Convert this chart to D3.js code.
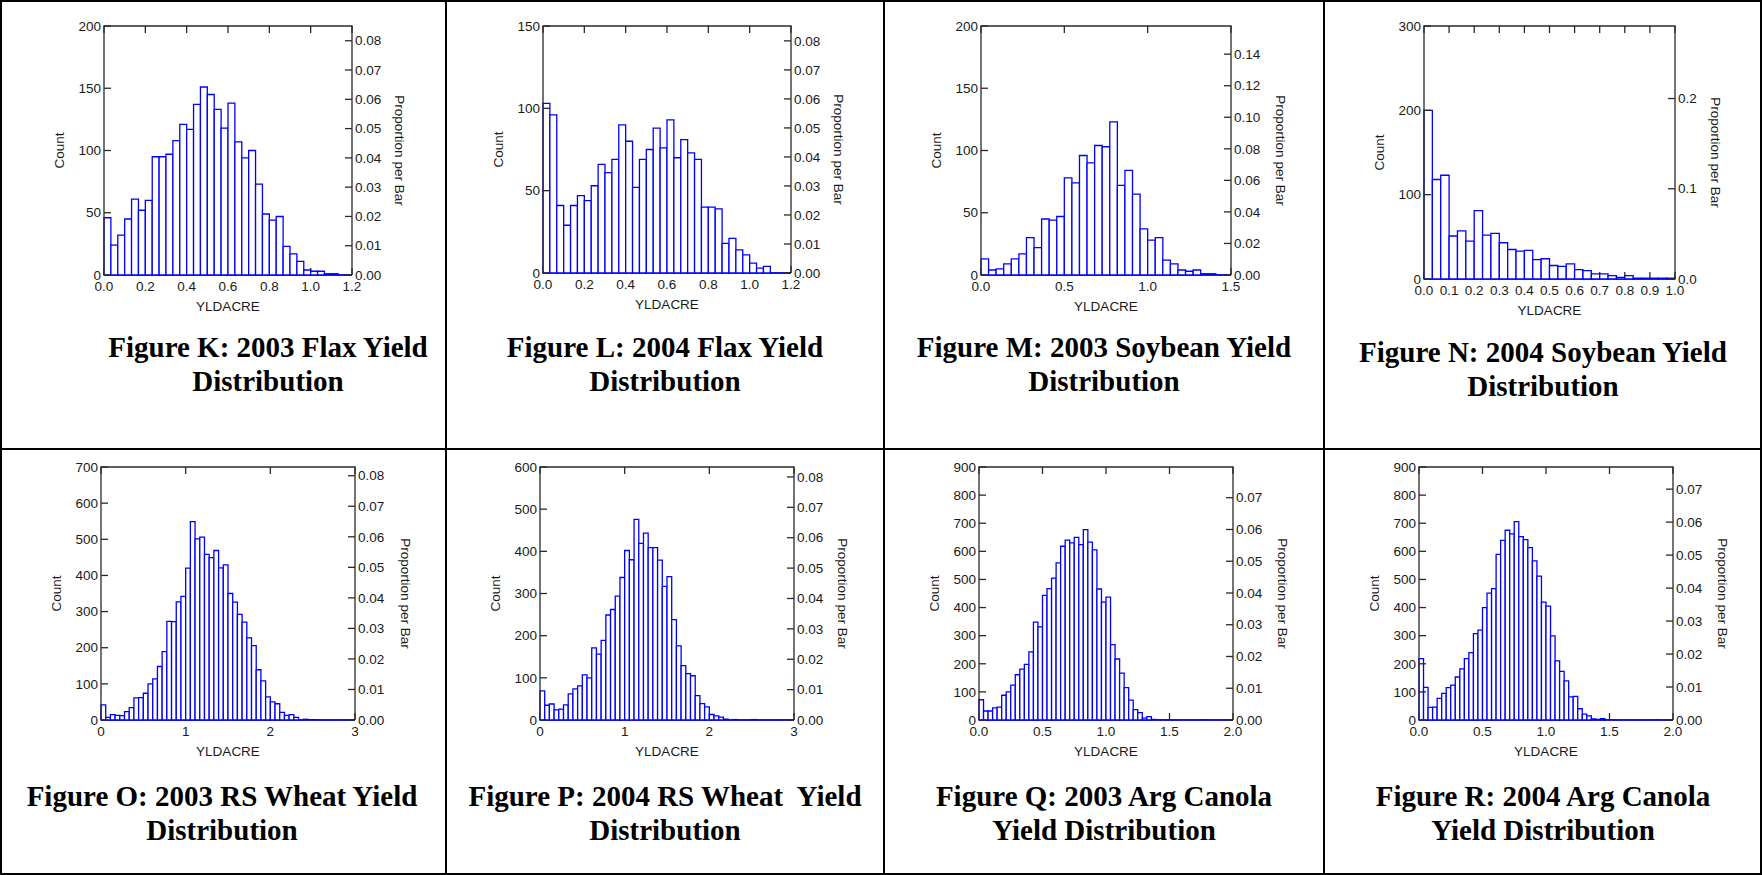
<!DOCTYPE html>
<meta charset="utf-8">
<head>
    <script src="https://d3js.org/d3.v7.min.js"></script>
    <style>
    body { margin: 0; background: #fff; }
    .tick-label { font: 13.5px "Liberation Sans", Arial, sans-serif; fill: #1a1a1a; }
    .axis-title { font: 13.5px "Liberation Sans", Arial, sans-serif; fill: #1a1a1a; }
    .fig-title { font: bold 29px "Liberation Serif", "Times New Roman", serif; fill: #000; white-space: pre; }
    .bar { stroke: #0000ff; stroke-width: 1.3; fill: #fff; }
    .frame { stroke: #2a2a2a; stroke-width: 1.3; }
    </style>
</head>
<body>
    <script>
    // panel ids, in reading order
    var panelIds = ["K", "L", "M", "N", "O", "P", "Q", "R"];

    // figure captions (two lines each)
    var titleLines = [
        ["Figure K: 2003 Flax Yield", "Distribution"],
        ["Figure L: 2004 Flax Yield", "Distribution"],
        ["Figure M: 2003 Soybean Yield", "Distribution"],
        ["Figure N: 2004 Soybean Yield", "Distribution"],
        ["Figure O: 2003 RS Wheat Yield", "Distribution"],
        ["Figure P: 2004 RS Wheat  Yield", "Distribution"],
        ["Figure Q: 2003 Arg Canola", "Yield Distribution"],
        ["Figure R: 2004 Arg Canola", "Yield Distribution"]
    ];

    // histogram counts per bin (bins span the whole x domain)
    var countsK = [46,24,32,45,61,52, 60,95,95,97,108,121, 117,137,151,145,133,118,
                   138,107,94,100,73,49, 44,47,23,17,11,4, 3,3,1,1,0,0];
    var countsL = [103,96,41,29,41,47, 44,53,66,61,69,90, 80,52,69,75,88,76,
                   93,70,81,73,69,40, 40,39,18,21,14,11, 6,3,4,0,0,0];
    var countsM = [13,4,5,9,13,17,30,22,45,44,47, 78,74,96,90,104,103,123,72,84,65,37,
                   28,30,12,9,4,3,4,1,1,0,0];
    var countsN = [200,118,123,51,57,45,81,52,54,43, 35,33,34,23,24,16,15,18,11,10,
                   6,6,4,2,4,1,1,1,1,1];
    var countsO = [42,7,15,13,12,23,34,61,62,74, 100,114,148,189,273,272,327,342,420,549,
                   501,506,458,449,469,421,429,350,326,292, 271,227,206,139,108,64,50,45,21,13,
                   15,7,0,2,1,1,0,0,0,0, 0,0,0,0];
    var countsP = [69,35,38,24,26,36,62,74,81,107, 100,171,156,189,249,262,294,338,402,380,
                   476,419,443,409,409,379,317,340,238,176, 129,110,105,58,39,31,13,10,7,2,
                   0,1,0,0,0,1,0,0,0,0, 0,0,0,0];
    var countsQ = [72,32,32,43,46,88,100,124,161,181, 198,242,348,331,443,467,505,559,618,640,
                   630,650,624,677,633,605,466,419,437,268, 217,167,115,71,37,26,7,12,2,1,
                   1,0,0,0,0,0,0,0,0,1, 0,0,0,0,0,0];
    var countsR = [218,116,45,46,77,95,115,124,153,182, 218,240,307,320,400,451,467,589,639,675,
                   662,706,652,642,613,566,512,419,405,299, 210,173,139,82,84,40,21,15,4,2,
                   5,1,1,0,0,0,0,0,0,0, 0,0,1,0,0,0];
    var allCounts = [countsK, countsL, countsM, countsN, countsO, countsP, countsQ, countsR];

    // x (YLDACRE) domains and tick values
    var xDomains = [[0, 1.2], [0, 1.2], [0, 1.5], [0, 1.0], [0, 3], [0, 3], [0, 2], [0, 2]];
    var xTicksK = [0, 0.2, 0.4, 0.6, 0.8, 1.0, 1.2];
    var xTicksM = [0, 0.5, 1.0, 1.5];
    var xTicksN = [0, 0.1, 0.2, 0.3, 0.4, 0.5, 0.6, 0.7, 0.8, 0.9, 1.0];
    var xTicksO = [0, 1, 2, 3];
    var xTicksQ = [0, 0.5, 1.0, 1.5, 2.0];
    var xTicks = [xTicksK, xTicksK, xTicksM, xTicksN, xTicksO, xTicksO, xTicksQ, xTicksQ];
    var xFormats = [".1f", ".1f", ".1f", ".1f", "d", "d", ".1f", ".1f"];

    // count axis maxima and ticks
    var countMax = [200, 150, 200, 300, 700, 600, 900, 900];
    var countStep = [50, 50, 50, 100, 100, 100, 100, 100];

    // proportion-per-bar ticks
    var propTicks8 = [0, 0.01, 0.02, 0.03, 0.04, 0.05, 0.06, 0.07, 0.08];
    var propTicks14 = [0, 0.02, 0.04, 0.06, 0.08, 0.10, 0.12, 0.14];
    var propTicks2 = [0, 0.1, 0.2];
    var propTicks7 = [0, 0.01, 0.02, 0.03, 0.04, 0.05, 0.06, 0.07];
    var propTicks = [propTicks8, propTicks8, propTicks14, propTicks2, propTicks8, propTicks8, propTicks7, propTicks7];
    var propFormats = [".2f", ".2f", ".2f", ".1f", ".2f", ".2f", ".2f", ".2f"];

    // plot boxes on the page
    var boxes = [
        { x0: 104, x1: 352, y0: 26, y1: 275, cx: 268, ty: 347 },
        { x0: 543, x1: 791, y0: 26, y1: 273, cx: 665, ty: 347 },
        { x0: 981, x1: 1231, y0: 26, y1: 275, cx: 1104, ty: 347 },
        { x0: 1424, x1: 1675, y0: 26, y1: 279, cx: 1543, ty: 352 },
        { x0: 101, x1: 355, y0: 467, y1: 720, cx: 222, ty: 796 },
        { x0: 540, x1: 794, y0: 467, y1: 720, cx: 665, ty: 796 },
        { x0: 979, x1: 1233, y0: 467, y1: 720, cx: 1104, ty: 796 },
        { x0: 1419, x1: 1673, y0: 467, y1: 720, cx: 1543, ty: 796 }
    ];
    var propOffset = [48, 48, 50, 41, 51, 49, 50, 50];

    var W = 1762, H = 875, tickLen = 7;

    var svg = d3.select("body").append("svg")
        .attr("width", W)
        .attr("height", H);

    // table grid
    var grid = svg.append("g").attr("stroke", "#000").attr("stroke-width", 2);
    grid.append("rect").attr("x", 1).attr("y", 1).attr("width", W - 2).attr("height", H - 2).attr("fill", "none");
    [446, 884, 1324].forEach(function(gx) {
        grid.append("line").attr("x1", gx).attr("x2", gx).attr("y1", 0).attr("y2", H);
    });
    grid.append("line").attr("x1", 0).attr("x2", W).attr("y1", 449).attr("y2", 449);

    panelIds.forEach(function(id, i) {
        var b = boxes[i];
        var counts = allCounts[i];
        var total = d3.sum(counts);
        var dom = xDomains[i];
        var binW = (dom[1] - dom[0]) / counts.length;

        var x = d3.scaleLinear().domain(dom).range([b.x0, b.x1]);
        var y = d3.scaleLinear().domain([0, countMax[i]]).range([b.y1, b.y0]);
        var yp = d3.scaleLinear().domain([0, countMax[i] / total]).range([b.y1, b.y0]);

        var g = svg.append("g").attr("class", "panel-" + id);

        // bottom line and inward x ticks (bars cover them)
        g.append("line").attr("class", "frame")
            .attr("x1", b.x0).attr("x2", b.x1).attr("y1", b.y1).attr("y2", b.y1);
        g.selectAll(".xtick-b").data(xTicks[i]).enter().append("line")
            .attr("class", "frame")
            .attr("x1", function(d) { return x(d); }).attr("x2", function(d) { return x(d); })
            .attr("y1", b.y1).attr("y2", b.y1 - tickLen);

        // bars
        g.selectAll(".bar").data(counts).enter().append("path")
            .attr("class", "bar")
            .attr("d", function(d, k) {
                var xa = x(dom[0] + k * binW), xb = x(dom[0] + (k + 1) * binW);
                return "M" + xa + "," + y(0) + "V" + y(d) + "H" + xb + "V" + y(0) + "Z";
            });

        // frame: left, top, right
        g.append("path").attr("class", "frame").attr("fill", "none")
            .attr("d", "M" + b.x0 + "," + b.y1 + "V" + b.y0 + "H" + b.x1 + "V" + b.y1);

        // top ticks (inward)
        g.selectAll(".xtick-t").data(xTicks[i]).enter().append("line")
            .attr("class", "frame")
            .attr("x1", function(d) { return x(d); }).attr("x2", function(d) { return x(d); })
            .attr("y1", b.y0).attr("y2", b.y0 + tickLen);

        // x tick labels
        var fx = d3.format(xFormats[i]);
        g.selectAll(".xlab").data(xTicks[i]).enter().append("text")
            .attr("class", "tick-label")
            .attr("x", function(d) { return x(d); })
            .attr("y", b.y1 + 16)
            .attr("text-anchor", "middle")
            .text(function(d) { return fx(d); });

        // left count axis
        var cticks = d3.range(0, countMax[i] + 1, countStep[i]);
        g.selectAll(".ytick").data(cticks).enter().append("line")
            .attr("class", "frame")
            .attr("x1", b.x0).attr("x2", b.x0 + tickLen)
            .attr("y1", function(d) { return y(d); }).attr("y2", function(d) { return y(d); });
        g.selectAll(".ylab").data(cticks).enter().append("text")
            .attr("class", "tick-label")
            .attr("x", b.x0 - 3)
            .attr("y", function(d) { return y(d); })
            .attr("dy", "0.35em")
            .attr("text-anchor", "end")
            .text(function(d) { return d; });

        // right proportion axis
        var fp = d3.format(propFormats[i]);
        g.selectAll(".ptick").data(propTicks[i]).enter().append("line")
            .attr("class", "frame")
            .attr("x1", b.x1 - tickLen).attr("x2", b.x1)
            .attr("y1", function(d) { return yp(d); }).attr("y2", function(d) { return yp(d); });
        g.selectAll(".plab").data(propTicks[i]).enter().append("text")
            .attr("class", "tick-label")
            .attr("x", b.x1 + 3)
            .attr("y", function(d) { return yp(d); })
            .attr("dy", "0.35em")
            .text(function(d) { return fp(d); });

        // axis titles
        var my = (b.y0 + b.y1) / 2;
        g.append("text").attr("class", "axis-title")
            .attr("transform", "translate(" + (b.x0 - 45) + "," + my + ") rotate(-90)")
            .attr("text-anchor", "middle").attr("dy", "0.35em")
            .text("Count");
        g.append("text").attr("class", "axis-title")
            .attr("transform", "translate(" + (b.x1 + propOffset[i]) + "," + my + ") rotate(90)")
            .attr("text-anchor", "middle").attr("dy", "0.35em")
            .text("Proportion per Bar");
        g.append("text").attr("class", "axis-title")
            .attr("x", (b.x0 + b.x1) / 2).attr("y", b.y1 + 31)
            .attr("dy", "0.35em").attr("text-anchor", "middle")
            .text("YLDACRE");

        // caption
        titleLines[i].forEach(function(line, k) {
            svg.append("text").attr("class", "fig-title")
                .attr("x", b.cx).attr("y", b.ty + k * 34)
                .attr("dy", "0.35em").attr("text-anchor", "middle")
                .text(line);
        });
    });
    </script>
</body>
</html>
